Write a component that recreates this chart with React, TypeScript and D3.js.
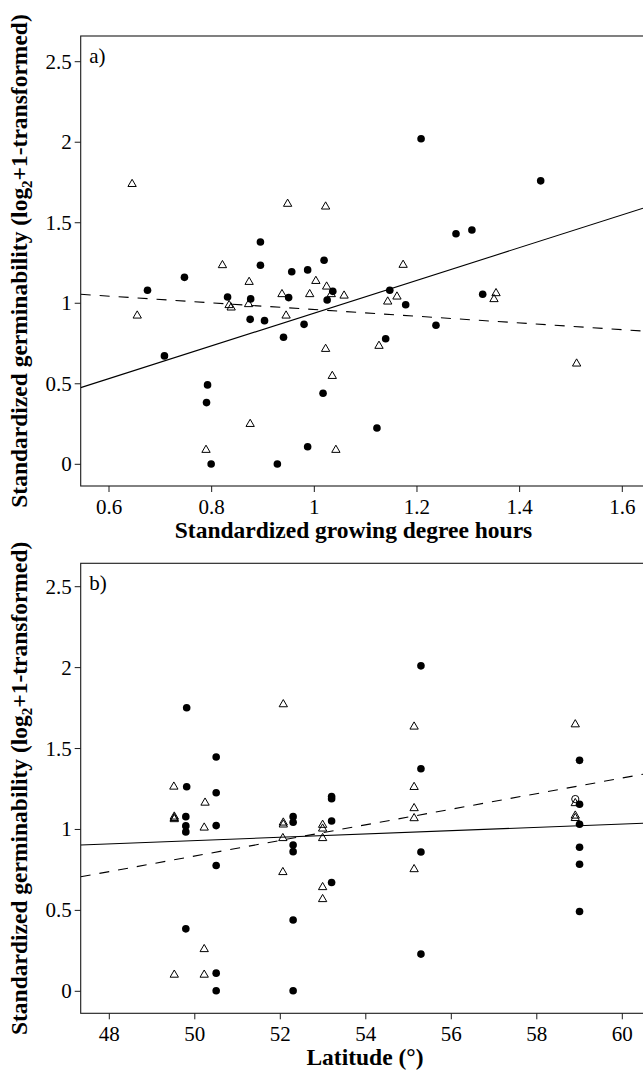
import React from "react";
import * as d3 from "d3";

// ---------- Panel a: standardized growing degree hours ----------
const gdhCircleX = [0.675, 0.747, 0.708, 0.792, 0.790, 0.799, 0.831, 0.876, 0.875, 0.895, 0.895, 0.903, 0.940, 0.950, 0.956, 0.928, 0.980, 0.987, 0.987, 1.019, 1.017, 1.025, 1.036, 1.139, 1.147, 1.122, 1.178, 1.208, 1.237, 1.276, 1.307, 1.328, 1.441];
const gdhCircleY = [1.081, 1.161, 0.673, 0.493, 0.383, 0.002, 1.039, 1.027, 0.900, 1.380, 1.236, 0.892, 0.789, 1.035, 1.196, 0.002, 0.869, 1.207, 0.109, 1.267, 0.441, 1.020, 1.074, 0.780, 1.081, 0.225, 0.991, 2.022, 0.863, 1.432, 1.455, 1.056, 1.760];
const gdhTriX = [0.645, 0.655, 0.789, 0.821, 0.834, 0.838, 0.872, 0.873, 0.875, 0.937, 0.945, 0.948, 0.991, 1.003, 1.022, 1.022, 1.024, 1.033, 1.035, 1.042, 1.058, 1.126, 1.143, 1.161, 1.173, 1.350, 1.354, 1.511];
const gdhTriY = [1.740, 0.923, 0.089, 1.236, 0.988, 0.973, 0.994, 1.132, 0.250, 1.056, 0.923, 1.617, 1.056, 1.138, 1.600, 0.716, 1.103, 1.056, 0.548, 0.089, 1.047, 0.735, 1.010, 1.041, 1.238, 1.025, 1.062, 0.625];
// fitted lines [intercept, slope]
const gdhSolidLine = [-0.078, 1.017];
const gdhDashedLine = [1.169, -0.208];

// ---------- Panel b: latitude ----------
const latCircleX = [49.81, 49.81, 49.79, 49.79, 49.79, 49.79, 50.50, 50.50, 50.50, 50.50, 50.50, 50.50, 52.30, 52.30, 52.30, 52.30, 52.30, 52.30, 53.20, 53.20, 53.20, 53.20, 55.29, 55.29, 55.29, 55.29, 59.00, 59.00, 59.00, 59.00, 59.00, 59.00];
const latCircleY = [1.752, 1.264, 1.079, 1.022, 0.985, 0.386, 1.448, 1.227, 1.024, 0.777, 0.112, 0.003, 1.079, 1.045, 0.904, 0.863, 0.441, 0.003, 1.203, 1.190, 1.052, 0.672, 2.011, 1.375, 0.861, 0.230, 1.427, 1.156, 1.032, 0.890, 0.785, 0.493];
const latTriX = [49.51, 49.52, 49.52, 49.52, 49.52, 50.24, 50.22, 50.22, 50.22, 52.07, 52.07, 52.07, 52.06, 52.06, 52.99, 52.99, 52.99, 52.99, 52.99, 55.13, 55.13, 55.13, 55.13, 55.13, 58.90, 58.90, 58.90, 58.90];
const latTriY = [1.264, 1.079, 1.070, 1.063, 0.102, 1.165, 1.011, 0.260, 0.102, 1.773, 1.042, 1.030, 0.946, 0.736, 1.028, 1.005, 0.946, 0.643, 0.569, 1.635, 1.262, 1.131, 1.069, 0.754, 1.649, 1.162, 1.085, 1.070];
const latOpenCircleX = [58.90];
const latOpenCircleY = [1.188];
const latSolidLine = [0.4215, 0.0102];
const latDashedLine = [-1.574, 0.0482];

const gdhTicks = [0.6, 0.8, 1, 1.2, 1.4, 1.6];
const latTicks = [48, 50, 52, 54, 56, 58, 60];
const yTicks = [0, 0.5, 1, 1.5, 2, 2.5];

const W = 643;
const H = 1074;
const SERIF = "'Liberation Serif', 'Times New Roman', serif";
const LEFT = 80.7;
const RIGHT = 643;

type PanelProps = {
  label: string;
  top: number;
  bottom: number;
  xDomain: [number, number];
  xRange: [number, number];
  yRange: [number, number];
  xTicks: number[];
  xTitle: string;
  xTitleX: number;
  cx: number[];
  cy: number[];
  tx: number[];
  ty: number[];
  ox?: number[];
  oy?: number[];
  solid: number[];
  dashed: number[];
};

function Panel(p: PanelProps) {
  const x = d3.scaleLinear().domain(p.xDomain).range(p.xRange);
  const y = d3.scaleLinear().domain([0, 2.5]).range(p.yRange);
  const x0 = x.invert(LEFT);
  const x1 = x.invert(RIGHT);
  const tri = d3.symbol().type(d3.symbolTriangle).size(30)();
  const lineGen = d3
    .line<number>()
    .x((d) => d)
    .y((d) => d);
  const fitPath = (c: number[]) => {
    const pts: [number, number][] = [x0, x1].map((v) => [x(v), y(c[0] + c[1] * v)]);
    return d3.line()(pts) || "";
  };
  void lineGen;
  const fmt = (v: number) => String(v);
  const mid = (p.top + p.bottom) / 2;
  const clipId = "clip-" + p.label.replace(/\W/g, "");
  return (
    <g>
      <defs>
        <clipPath id={clipId}>
          <rect x={LEFT} y={p.top} width={RIGHT - LEFT + 20} height={p.bottom - p.top} />
        </clipPath>
      </defs>
      {/* frame */}
      <rect x={LEFT} y={p.top} width={RIGHT - LEFT + 20} height={p.bottom - p.top} fill="none" stroke="#1a1a1a" strokeWidth={1.1} />
      {/* y ticks */}
      {yTicks.map((t) => (
        <g key={"y" + t}>
          <line x1={LEFT - 6} x2={LEFT} y1={y(t)} y2={y(t)} stroke="#1a1a1a" strokeWidth={1} />
          <text x={LEFT - 9} y={y(t) + 7} textAnchor="end" fontFamily={SERIF} fontSize={21} fill="#000">
            {fmt(t)}
          </text>
        </g>
      ))}
      {/* x ticks */}
      {p.xTicks.map((t) => (
        <g key={"x" + t}>
          <line x1={x(t)} x2={x(t)} y1={p.bottom} y2={p.bottom + 6} stroke="#1a1a1a" strokeWidth={1} />
          <text x={x(t)} y={p.bottom + 27.5} textAnchor="middle" fontFamily={SERIF} fontSize={21} fill="#000">
            {fmt(t)}
          </text>
        </g>
      ))}
      {/* titles */}
      <text x={p.xTitleX} y={p.bottom + 51.5} textAnchor="middle" fontFamily={SERIF} fontWeight="bold" fontSize={23.5} fill="#000">
        {p.xTitle}
      </text>
      <text
        transform={`translate(27,${mid}) rotate(-90)`}
        textAnchor="middle"
        fontFamily={SERIF}
        fontWeight="bold"
        fontSize={23.5}
        fill="#000"
      >
        Standardized germinability (log
        <tspan fontSize={15} dy={5}>2</tspan>
        <tspan dy={-5}>+1-transformed)</tspan>
      </text>
      <text x={LEFT + 8.5} y={p.top + 26.5} fontFamily={SERIF} fontSize={21} fill="#000">
        {p.label}
      </text>
      <g clipPath={`url(#${clipId})`}>
        <path d={fitPath(p.solid)} fill="none" stroke="#000" strokeWidth={1.1} />
        <path d={fitPath(p.dashed)} fill="none" stroke="#000" strokeWidth={1.1} strokeDasharray="10,9" />
        {p.tx.map((v, i) => (
          <path key={"t" + i} d={tri} transform={`translate(${x(v)},${y(p.ty[i])})`} fill="none" stroke="#000" strokeWidth={1} />
        ))}
        {(p.ox || []).map((v, i) => (
          <circle key={"o" + i} cx={x(v)} cy={y((p.oy || [])[i])} r={3.6} fill="none" stroke="#000" strokeWidth={1} />
        ))}
        {p.cx.map((v, i) => (
          <circle key={"c" + i} cx={x(v)} cy={y(p.cy[i])} r={3.8} fill="#000" />
        ))}
      </g>
    </g>
  );
}

export default function App() {
  return (
    <svg
      width={W}
      height={H}
      viewBox={`0 0 ${W} ${H}`}
      style={{ position: "absolute", left: 0, top: 0, background: "#fff", display: "block" }}
    >
      <rect x={0} y={0} width={W} height={H} fill="#fff" />
      <Panel
        label="a)"
        top={36}
        bottom={486}
        xDomain={[0.6, 1.6]}
        xRange={[109, 622.3]}
        yRange={[464.3, 61.7]}
        xTicks={gdhTicks}
        xTitle="Standardized growing degree hours"
        xTitleX={353.5}
        cx={gdhCircleX}
        cy={gdhCircleY}
        tx={gdhTriX}
        ty={gdhTriY}
        solid={gdhSolidLine}
        dashed={gdhDashedLine}
      />
      <Panel
        label="b)"
        top={563.3}
        bottom={1013.3}
        xDomain={[48, 60]}
        xRange={[109.3, 622.3]}
        yRange={[991.3, 586.7]}
        xTicks={latTicks}
        xTitle="Latitude (°)"
        xTitleX={365}
        cx={latCircleX}
        cy={latCircleY}
        tx={latTriX}
        ty={latTriY}
        ox={latOpenCircleX}
        oy={latOpenCircleY}
        solid={latSolidLine}
        dashed={latDashedLine}
      />
    </svg>
  );
}
